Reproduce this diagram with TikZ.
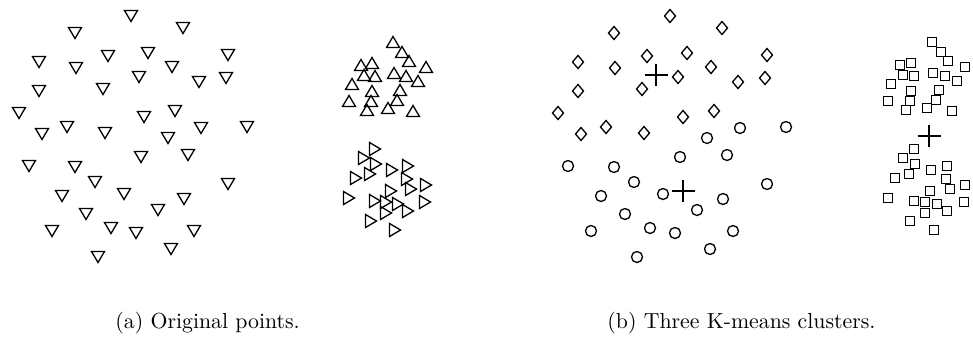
\documentclass[tikz,border=0pt]{standalone}
\usepackage{tikz}

\tikzset{
  pointmark/.style={black,line width=0.6pt,line join=miter},
  centroid/.style={black,line width=1.2pt},
  caption/.style={anchor=base west,inner sep=0pt,font=\normalsize}
}

% positions of the points (same for both panels)
\def\BigTop{131/16,183/28,75/33,108/56,148/53,228/55,39/62,76/68,172/67,139/77,
  199/82,226/78,39/91,103/89,19/113,175/111,144/117,67/127,42/134,105/133}
\def\BigBot{201/128,247/127,168/138,141/157,188/155,29/166,75/167,95/182,228/184,62/196,
  124/194,184/199,86/214,158/210,52/231,111/228,136/233,194/231,171/249,98/257}
\def\SmallTop{393/42,402/52,409/61,361/65,372/63,426/67,364/75,375/76,394/73,406/76,
  418/81,352/84,372/91,400/90,349/101,371/101,397/100,367/110,388/108,413/111}
\def\SmallBot{375/149,364/158,376/164,392/170,408/166,356/178,370/174,407/179,426/185,391/191,
  411/189,349/198,375/201,386/202,398/204,425/202,408/211,386/213,371/221,395/230}

\begin{document}
\begin{tikzpicture}[x=0.4587pt,y=-0.4587pt]
\useasboundingbox (0,0) rectangle (973,339);

% Define the marker sizes
\pgfmathsetmacro{\Tw}{6.5};
\pgfmathsetmacro{\Th}{5.5};
\pgfmathsetmacro{\Sq}{4.75};
\pgfmathsetmacro{\Shift}{539};

%%%%%%%%%%%%%%%%%%%%%%%%%%%%%%%%%%%%%%%%%%%%%%%%%%%%%%%%%%%%%%%%%%%%%%%%%%%%
% (a) the original points
\foreach \x/\y in \BigTop
  \draw [pointmark] (\x-\Tw,\y-\Th) -- (\x+\Tw,\y-\Th) -- (\x,\y+\Th) -- cycle;
\foreach \x/\y in \BigBot
  \draw [pointmark] (\x-\Tw,\y-\Th) -- (\x+\Tw,\y-\Th) -- (\x,\y+\Th) -- cycle;

\foreach \x/\y in \SmallTop
  \draw [pointmark] (\x-\Tw,\y+\Th) -- (\x+\Tw,\y+\Th) -- (\x,\y-\Th) -- cycle;
\foreach \x/\y in \SmallBot
  \draw [pointmark] (\x-\Th,\y-\Tw) -- (\x-\Th,\y+\Tw) -- (\x+\Th,\y) -- cycle;

\node [caption] (capA) at (115,328) {(a) Original points.};

%%%%%%%%%%%%%%%%%%%%%%%%%%%%%%%%%%%%%%%%%%%%%%%%%%%%%%%%%%%%%%%%%%%%%%%%%%%%
% (b) the same points in three clusters
\begin{scope}[shift={(\Shift,0)}]
\foreach \x/\y in \BigTop
  \draw [pointmark] (\x,\y-\Tw) -- (\x+\Th,\y) -- (\x,\y+\Tw) -- (\x-\Th,\y) -- cycle;
\foreach \x/\y in \BigBot
  \draw [pointmark] (\x,\y) circle [radius=5.5];
\foreach \x/\y in \SmallTop
  \draw [pointmark] (\x-\Sq,\y-\Sq) rectangle (\x+\Sq,\y+\Sq);
\foreach \x/\y in \SmallBot
  \draw [pointmark] (\x-\Sq,\y-\Sq) rectangle (\x+\Sq,\y+\Sq);
\end{scope}

% the cluster centroids
\foreach \x/\y in {656/75,683/191,929/136}
  \draw [centroid] (\x-11.5,\y) -- (\x+11.5,\y) (\x,\y-11) -- (\x,\y+11);

\node [caption] (capB) at (607,328) {(b) Three K-means clusters.};
\end{tikzpicture}
\end{document}
